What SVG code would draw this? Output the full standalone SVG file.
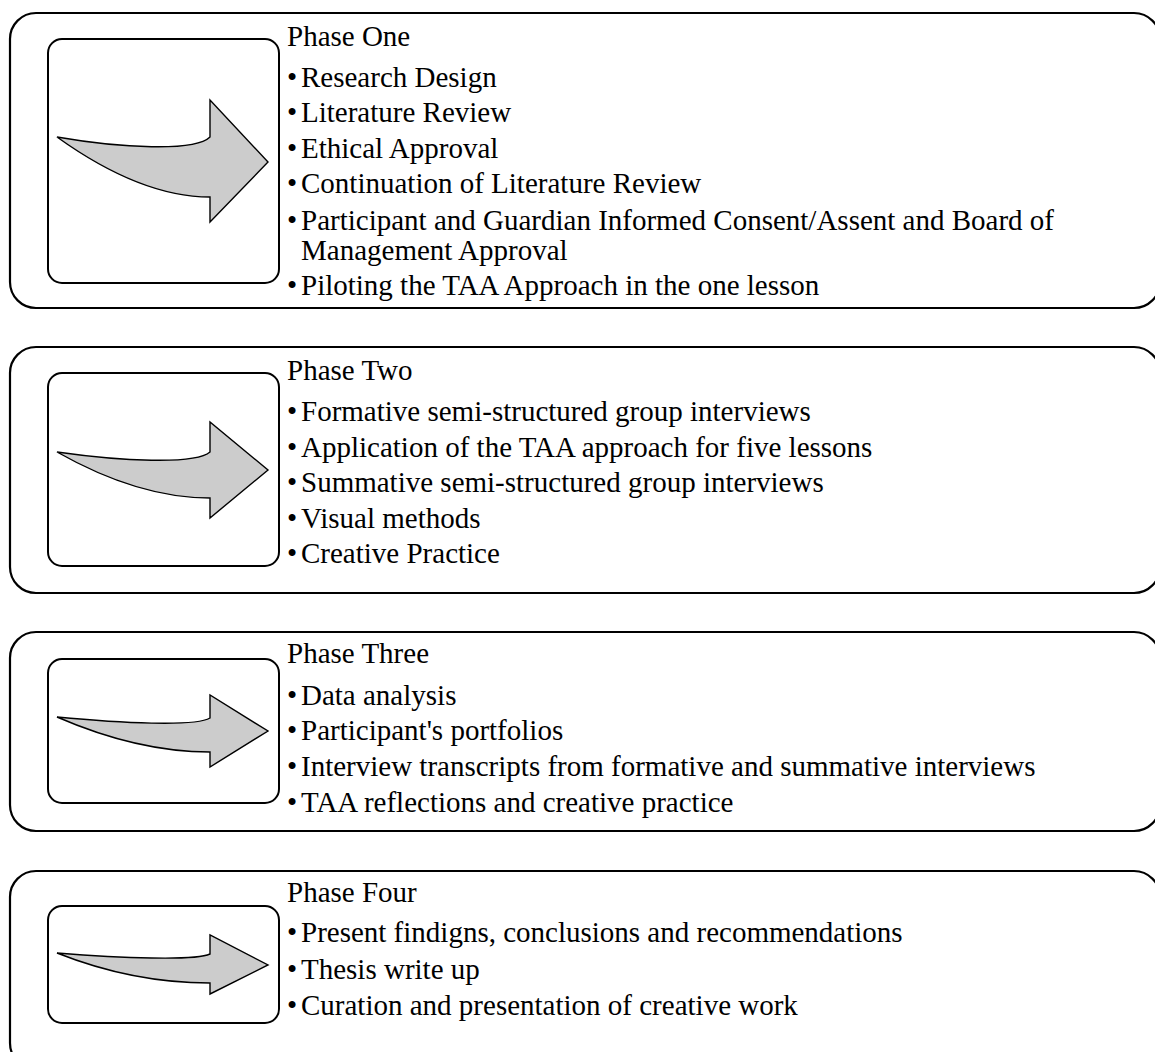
<svg xmlns="http://www.w3.org/2000/svg" width="1155" height="1052" viewBox="0 0 1155 1052">
  <style>
    .outer { fill: #ffffff; stroke: #000000; stroke-width: 2.2; }
    .inner { fill: #ffffff; stroke: #000000; stroke-width: 2; }
    .arrow { fill: #cccccc; stroke: #000000; stroke-width: 1.4; stroke-linejoin: miter; }
    text { font-family: "Liberation Serif", "Times New Roman", serif; font-size: 29px; fill: #000000; }
  </style>
  <rect width="1155" height="1052" fill="#ffffff"/>

  <!-- Phase One -->
  <g id="phase-one">
    <rect class="outer" x="10" y="13" width="1150" height="295" rx="26" ry="26"/>
    <rect class="inner" x="48" y="39" width="231" height="244" rx="14" ry="14"/>
    <path class="arrow" d="M57,137 C120,148 195,152 210,137 L210,100 L268,162 L210,222 L210,197 C160,197 110,175 57,137 Z"/>
    <text x="287" y="46">Phase One</text>
    <text x="287" y="87">•</text><text x="301" y="87">Research Design</text>
    <text x="287" y="122">•</text><text x="301" y="122">Literature Review</text>
    <text x="287" y="158">•</text><text x="301" y="158">Ethical Approval</text>
    <text x="287" y="193">•</text><text x="301" y="193">Continuation of Literature Review</text>
    <text x="287" y="230">•</text><text x="301" y="230">Participant and Guardian Informed Consent/Assent and Board of</text>
    <text x="301" y="260">Management Approval</text>
    <text x="287" y="295">•</text><text x="301" y="295">Piloting the TAA Approach in the one lesson</text>
  </g>

  <!-- Phase Two -->
  <g id="phase-two">
    <rect class="outer" x="10" y="347" width="1150" height="246" rx="26" ry="26"/>
    <rect class="inner" x="48" y="373" width="231" height="193" rx="14" ry="14"/>
    <path class="arrow" d="M57,452 C120,461 195,465 210,452 L210,422 L268,470 L210,518 L210,498 C160,498 110,482 57,452 Z"/>
    <text x="287" y="380">Phase Two</text>
    <text x="287" y="421">•</text><text x="301" y="421">Formative semi-structured group interviews</text>
    <text x="287" y="457">•</text><text x="301" y="457">Application of the TAA approach for five lessons</text>
    <text x="287" y="492">•</text><text x="301" y="492">Summative semi-structured group interviews</text>
    <text x="287" y="528">•</text><text x="301" y="528">Visual methods</text>
    <text x="287" y="563">•</text><text x="301" y="563">Creative Practice</text>
  </g>

  <!-- Phase Three -->
  <g id="phase-three">
    <rect class="outer" x="10" y="632" width="1150" height="199" rx="26" ry="26"/>
    <rect class="inner" x="48" y="659" width="231" height="144" rx="14" ry="14"/>
    <path class="arrow" d="M57,717 C120,723 195,727 210,718 L210,695 L268,731 L210,767 L210,752 C160,752 110,740 57,717 Z"/>
    <text x="287" y="663">Phase Three</text>
    <text x="287" y="705">•</text><text x="301" y="705">Data analysis</text>
    <text x="287" y="740">•</text><text x="301" y="740">Participant's portfolios</text>
    <text x="287" y="776">•</text><text x="301" y="776">Interview transcripts from formative and summative interviews</text>
    <text x="287" y="812">•</text><text x="301" y="812">TAA reflections and creative practice</text>
  </g>

  <!-- Phase Four -->
  <g id="phase-four">
    <rect class="outer" x="10" y="871" width="1150" height="198" rx="26" ry="26"/>
    <rect class="inner" x="48" y="906" width="231" height="117" rx="14" ry="14"/>
    <path class="arrow" d="M57,953 C120,958 195,961 210,954 L210,935 L268,965 L210,994 L210,983 C160,983 110,974 57,953 Z"/>
    <text x="287" y="902">Phase Four</text>
    <text x="287" y="942">•</text><text x="301" y="942">Present findigns, conclusions and recommendations</text>
    <text x="287" y="979">•</text><text x="301" y="979">Thesis write up</text>
    <text x="287" y="1015">•</text><text x="301" y="1015">Curation and presentation of creative work</text>
  </g>

  <!-- no connectors between the phase panels -->
  <g id="connectors"/>
</svg>
